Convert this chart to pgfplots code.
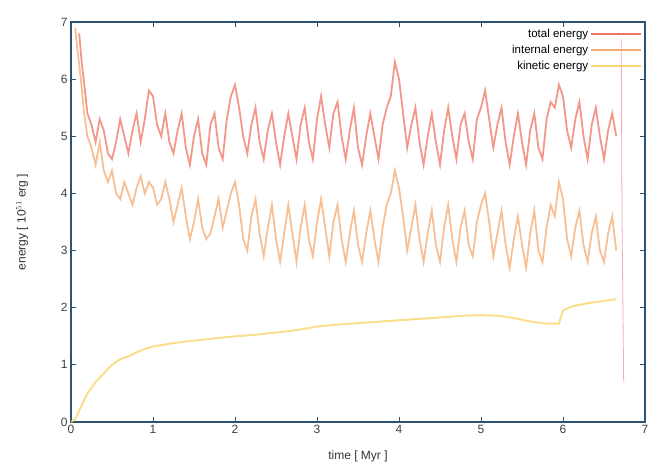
\documentclass[border=0pt]{standalone}
\usepackage{pgfplots}
\pgfplotsset{compat=1.18}
\usepackage{fontspec}
\setmainfont{Liberation Sans}
\definecolor{framec}{RGB}{45,85,115}
\definecolor{ctot}{RGB}{238,118,98}
\definecolor{cint}{RGB}{246,170,112}
\definecolor{ckin}{RGB}{250,214,110}
\definecolor{cvert}{RGB}{240,170,190}
\begin{document}
\begin{tikzpicture}[x=1pt,y=1pt]
\useasboundingbox (-71,-41) rectangle (600,422);
\begin{axis}[
  at={(0,0)}, anchor=south west,
  scale only axis, width=574pt, height=400pt,
  xmin=0, xmax=7, ymin=0, ymax=7,
  xtick={0,1,...,7}, ytick={0,1,...,7},
  tick align=inside,
  axis line style={framec, line width=1.3pt},
  tick style={framec, line width=0.8pt},
  major tick length=5pt,
  /pgf/number format/assume math mode=true,
  tick label style={font=\fontsize{12}{14}\selectfont, text=black!75},
  xlabel={time [ Myr ]},
  ylabel={energy [ 10$^{51}$ erg ]},
  label style={font=\fontsize{12}{14}\selectfont, text=black!80},
  xlabel style={at={(axis description cs:0.5,-0.085)}, anchor=center},
  ylabel style={at={(axis description cs:-0.085,0.5)}, anchor=center},
  legend style={at={(0.996,0.99)}, anchor=north east, draw=none, fill=none,
    font=\fontsize{11.5}{13}\selectfont, row sep=3.5pt, inner sep=1pt,
    nodes={inner sep=1.5pt}},
  legend cell align=right,
  legend plot pos=right,
  legend image code/.code={\draw[#1, opacity=1, line width=1.8pt] (0pt,0pt) -- (50pt,0pt);},
]
\addplot[ctot, line width=1.8pt, opacity=0.75] coordinates {
(0.10,6.8)(0.13,6.3)(0.17,5.8)(0.20,5.4)(0.25,5.2)(0.30,4.9)(0.35,5.3)(0.40,5.1)(0.45,4.7)(0.50,4.6)
(0.55,4.9)(0.60,5.3)(0.65,5.0)(0.70,4.7)(0.75,5.1)(0.80,5.4)(0.85,4.9)(0.90,5.3)(0.95,5.8)(1.00,5.7)
(1.05,5.2)(1.10,5.0)(1.15,5.4)(1.20,4.9)(1.25,4.7)(1.30,5.1)(1.35,5.4)(1.40,4.8)(1.45,4.5)(1.50,5.0)
(1.55,5.3)(1.60,4.7)(1.65,4.5)(1.70,5.2)(1.75,5.4)(1.80,4.8)(1.85,4.6)(1.90,5.3)(1.95,5.7)(2.00,5.9)
(2.05,5.5)(2.10,5.0)(2.15,4.7)(2.20,5.2)(2.25,5.5)(2.30,4.9)(2.35,4.6)(2.40,5.1)(2.45,5.4)(2.50,4.9)
(2.55,4.5)(2.60,5.0)(2.65,5.4)(2.70,5.0)(2.75,4.6)(2.80,5.2)(2.85,5.5)(2.90,4.9)(2.95,4.6)(3.00,5.3)
(3.05,5.7)(3.10,5.2)(3.15,4.8)(3.20,5.4)(3.25,5.6)(3.30,5.0)(3.35,4.6)(3.40,5.1)(3.45,5.5)(3.50,4.8)
(3.55,4.5)(3.60,5.0)(3.65,5.4)(3.70,5.0)(3.75,4.6)(3.80,5.2)(3.85,5.5)(3.90,5.7)(3.95,6.3)(4.00,6.0)
(4.05,5.4)(4.10,4.8)(4.15,5.2)(4.20,5.5)(4.25,4.9)(4.30,4.5)(4.35,5.0)(4.40,5.4)(4.45,4.9)(4.50,4.5)
(4.55,5.1)(4.60,5.5)(4.65,5.0)(4.70,4.6)(4.75,5.2)(4.80,5.4)(4.85,4.9)(4.90,4.6)(4.95,5.3)(5.00,5.5)
(5.05,5.8)(5.10,5.3)(5.15,4.8)(5.20,5.2)(5.25,5.5)(5.30,4.9)(5.35,4.5)(5.40,5.0)(5.45,5.4)(5.50,4.9)
(5.55,4.5)(5.60,5.1)(5.65,5.4)(5.70,4.8)(5.75,4.6)(5.80,5.3)(5.85,5.6)(5.90,5.5)(5.95,5.9)(6.00,5.7)
(6.05,5.1)(6.10,4.8)(6.15,5.3)(6.20,5.6)(6.25,5.0)(6.30,4.6)(6.35,5.2)(6.40,5.5)(6.45,5.0)(6.50,4.6)
(6.55,5.1)(6.60,5.4)(6.65,5.0)
};
\addlegendentry{total energy}
\addplot[cint, line width=1.8pt, opacity=0.75] coordinates {
(0.05,6.9)(0.08,6.5)(0.12,6.0)(0.16,5.4)(0.20,5.0)(0.25,4.8)(0.30,4.5)(0.35,4.9)(0.40,4.4)(0.45,4.2)
(0.50,4.4)(0.55,4.0)(0.60,3.9)(0.65,4.2)(0.70,4.0)(0.75,3.8)(0.80,4.1)(0.85,4.3)(0.90,4.0)(0.95,4.2)
(1.00,4.1)(1.05,3.8)(1.10,3.9)(1.15,4.2)(1.20,3.9)(1.25,3.5)(1.30,3.8)(1.35,4.1)(1.40,3.6)(1.45,3.2)
(1.50,3.5)(1.55,3.9)(1.60,3.4)(1.65,3.2)(1.70,3.3)(1.75,3.6)(1.80,3.9)(1.85,3.4)(1.90,3.7)(1.95,4.0)
(2.00,4.2)(2.05,3.8)(2.10,3.2)(2.15,3.0)(2.20,3.6)(2.25,3.9)(2.30,3.3)(2.35,2.9)(2.40,3.4)(2.45,3.8)
(2.50,3.2)(2.55,2.8)(2.60,3.3)(2.65,3.8)(2.70,3.3)(2.75,2.8)(2.80,3.4)(2.85,3.8)(2.90,3.2)(2.95,2.9)
(3.00,3.5)(3.05,3.9)(3.10,3.4)(3.15,2.9)(3.20,3.5)(3.25,3.8)(3.30,3.2)(3.35,2.8)(3.40,3.3)(3.45,3.7)
(3.50,3.1)(3.55,2.8)(3.60,3.3)(3.65,3.7)(3.70,3.2)(3.75,2.8)(3.80,3.4)(3.85,3.8)(3.90,4.0)(3.95,4.4)
(4.00,4.1)(4.05,3.6)(4.10,3.0)(4.15,3.4)(4.20,3.8)(4.25,3.2)(4.30,2.8)(4.35,3.3)(4.40,3.7)(4.45,3.1)
(4.50,2.8)(4.55,3.4)(4.60,3.8)(4.65,3.2)(4.70,2.8)(4.75,3.4)(4.80,3.7)(4.85,3.1)(4.90,2.9)(4.95,3.5)
(5.00,3.8)(5.05,4.0)(5.10,3.5)(5.15,2.9)(5.20,3.3)(5.25,3.7)(5.30,3.1)(5.35,2.7)(5.40,3.2)(5.45,3.6)
(5.50,3.1)(5.55,2.7)(5.60,3.3)(5.65,3.7)(5.70,3.0)(5.75,2.8)(5.80,3.4)(5.85,3.8)(5.90,3.6)(5.95,4.2)
(6.00,3.9)(6.05,3.2)(6.10,2.9)(6.15,3.4)(6.20,3.7)(6.25,3.1)(6.30,2.8)(6.35,3.3)(6.40,3.6)(6.45,3.0)
(6.50,2.8)(6.55,3.3)(6.60,3.6)(6.65,3.0)
};
\addlegendentry{internal energy}
\addplot[ckin, line width=2pt, opacity=0.8] coordinates {
(0.00,0.0)(0.05,0.05)(0.10,0.2)(0.15,0.35)(0.20,0.5)(0.30,0.7)(0.40,0.85)(0.50,1.0)(0.60,1.1)(0.70,1.15)
(0.80,1.22)(0.90,1.28)(1.00,1.32)(1.20,1.37)(1.40,1.41)(1.60,1.44)(1.80,1.47)(2.00,1.50)(2.20,1.52)(2.40,1.55)
(2.60,1.58)(2.80,1.62)(3.00,1.67)(3.20,1.70)(3.40,1.72)(3.60,1.74)(3.80,1.76)(4.00,1.78)(4.20,1.80)(4.40,1.82)
(4.60,1.84)(4.80,1.86)(5.00,1.87)(5.20,1.86)(5.40,1.82)(5.60,1.76)(5.80,1.72)(5.95,1.72)(6.00,1.95)(6.10,2.02)
(6.30,2.08)(6.50,2.12)(6.65,2.15)
};
\addlegendentry{kinetic energy}
\addplot[cvert, line width=0.8pt, forget plot] coordinates {
(6.71,6.7)(6.72,3.5)(6.74,0.7)
};
\end{axis}
\end{tikzpicture}
\end{document}
